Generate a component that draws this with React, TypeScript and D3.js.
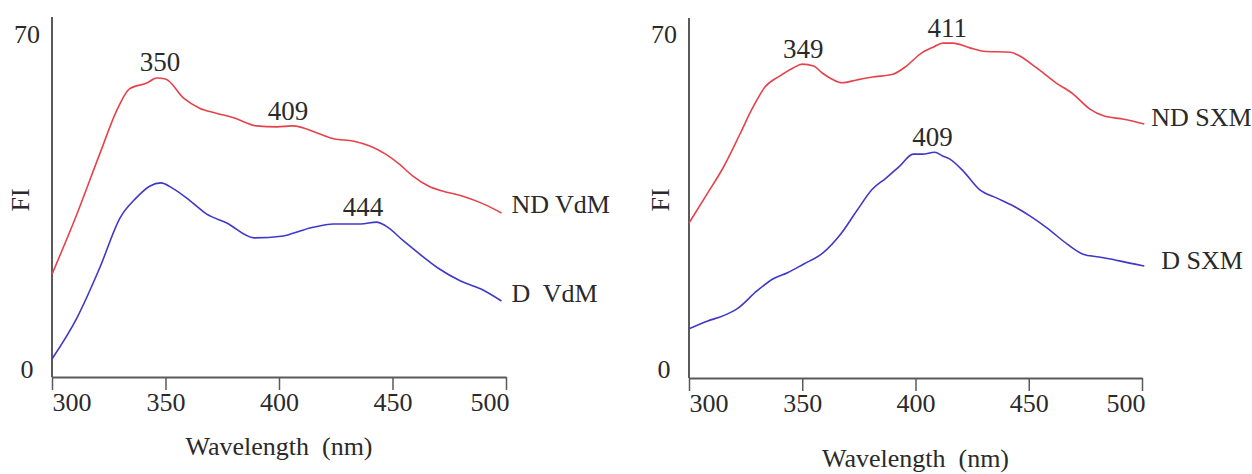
import React, { useEffect, useRef } from 'react';
import * as d3 from 'd3';

// ---- Data ----
const xTicks = [300, 350, 400, 450, 500];
const yTicks = [0, 70];

const ndVdmNm = [300, 311, 321, 329, 334, 342, 346, 350, 358, 365, 372, 380, 390, 399, 406, 418, 424, 433, 440, 447, 453, 459, 466, 472, 481, 490, 498];
const ndVdmFi = [19.8, 32.4, 44.9, 54.5, 58.5, 59.8, 60.8, 60.6, 56.6, 54.5, 53.5, 52.5, 50.8, 50.6, 50.8, 49.1, 48.1, 47.6, 46.6, 44.9, 42.8, 40.3, 38.2, 37.2, 36.1, 34.5, 32.6];

const dVdmNm = [300, 311, 321, 330, 337, 343, 348, 353, 361, 368, 377, 389, 402, 409, 415, 424, 436, 443, 447, 455, 462, 470, 480, 489, 498];
const dVdmFi = [2.1, 10.7, 21.1, 31.6, 35.7, 38.2, 38.9, 37.8, 35.1, 32.4, 30.5, 27.4, 27.8, 28.8, 29.6, 30.3, 30.3, 30.7, 29.9, 26.7, 24.0, 21.1, 18.4, 16.7, 14.2];

const ndSxmNm = [300, 308, 315, 322.5, 328, 333.5, 340, 346, 350, 355, 359, 363, 367.5, 374, 381, 390, 396, 402, 408, 412, 416.5, 424, 430, 442, 446, 453.5, 462, 469.5, 477, 483, 492, 501];
const ndSxmFi = [30.5, 36.6, 42.0, 49.1, 54.5, 58.9, 61.2, 62.9, 63.7, 63.3, 61.8, 60.6, 59.8, 60.4, 61.0, 61.6, 63.3, 65.8, 67.3, 68.1, 68.1, 67.1, 66.4, 66.2, 65.4, 62.9, 59.8, 57.5, 54.3, 52.9, 52.2, 51.2];

const dSxmNm = [300, 308, 315, 321, 330, 337, 343.5, 350.5, 359, 367, 374, 381, 387, 393, 399, 403, 408.5, 412, 415, 421, 428, 436, 443, 450.5, 458, 467, 474, 481, 490, 501];
const dSxmFi = [8.4, 10.0, 11.1, 12.5, 16.3, 18.8, 20.1, 21.9, 24.2, 28.2, 33.0, 37.6, 39.9, 42.4, 44.9, 44.9, 45.3, 44.5, 43.9, 41.4, 37.6, 35.7, 34.1, 32.0, 29.5, 26.1, 24.0, 23.4, 22.6, 21.5];

// peak annotations: text, wavelength, FI
const leftPeakText = ['350', '409', '444'];
const leftPeakNm = [347.6, 404, 437];
const leftPeakFi = [60.8, 50.7, 30.5];
const rightPeakText = ['349', '411', '409'];
const rightPeakNm = [350.4, 414, 407.5];
const rightPeakFi = [63.7, 68.1, 45.3];

const RED = '#e5434b';
const BLUE = '#4038c8';
const AXIS = '#5a5a5a';
const TEXT = '#2a2a2a';
const FONT = "'Liberation Serif', 'Times New Roman', Times, serif";

type Series = { name: string; nm: number[]; fi: number[]; color: string; dx: number; dy: number };

const panels = [
  {
    xRange: [52, 506], y0: 369, y70: 34, axisY: 377, axisTop: 17, fiX: 20, titleY: 446,
    series: [
      { name: 'ND VdM', nm: ndVdmNm, fi: ndVdmFi, color: RED, dx: 10, dy: -9 },
      { name: 'D  VdM', nm: dVdmNm, fi: dVdmFi, color: BLUE, dx: 10, dy: -8 },
    ] as Series[],
    peakText: leftPeakText, peakNm: leftPeakNm, peakFi: leftPeakFi,
  },
  {
    xRange: [689, 1142], y0: 369, y70: 34, axisY: 378, axisTop: 18, fiX: 660, titleY: 458,
    series: [
      { name: 'ND SXM', nm: ndSxmNm, fi: ndSxmFi, color: RED, dx: 7, dy: -7 },
      { name: 'D SXM', nm: dSxmNm, fi: dSxmFi, color: BLUE, dx: 17, dy: -6 },
    ] as Series[],
    peakText: rightPeakText, peakNm: rightPeakNm, peakFi: rightPeakFi,
  },
];

export default function App() {
  const ref = useRef<SVGSVGElement | null>(null);

  useEffect(() => {
    const svg = d3.select(ref.current);
    svg.selectAll('*').remove();

    panels.forEach((p) => {
      const x = d3.scaleLinear().domain([300, 500]).range(p.xRange);
      const y = d3.scaleLinear().domain([0, 70]).range([p.y0, p.y70]);
      const g = svg.append('g');

      // y axis line
      g.append('line')
        .attr('x1', p.xRange[0]).attr('x2', p.xRange[0])
        .attr('y1', p.axisTop).attr('y2', p.axisY)
        .attr('stroke', AXIS).attr('stroke-width', 2);

      // y tick labels (no tick marks)
      g.selectAll('text.ytick').data(yTicks).enter().append('text')
        .attr('class', 'ytick')
        .attr('x', p.xRange[0] - 25)
        .attr('y', (d) => y(d))
        .attr('dy', '0.35em')
        .attr('text-anchor', 'middle')
        .style('font-family', FONT).style('font-size', '26px').attr('fill', TEXT)
        .text((d) => String(d));

      // x axis
      const xAxis = d3.axisBottom(x).tickValues(xTicks).tickSize(13).tickSizeOuter(0).tickPadding(3)
        .tickFormat((d) => String(d));
      const ax = g.append('g').attr('transform', `translate(0,${p.axisY})`).call(xAxis);
      ax.attr('font-family', null).attr('font-size', null);
      ax.select('.domain').attr('stroke', AXIS).attr('stroke-width', 2);
      ax.selectAll('.tick line').attr('stroke', AXIS).attr('stroke-width', 1.5);
      ax.selectAll('.tick text')
        .style('font-family', FONT).style('font-size', '26px').attr('fill', TEXT)
        .attr('text-anchor', (d: any) => (d === 300 ? 'start' : d === 500 ? 'end' : 'middle'))
        .attr('dx', (d: any) => (d === 500 ? 3 : 0));

      // x title
      g.append('text')
        .attr('x', (p.xRange[0] + p.xRange[1]) / 2)
        .attr('y', p.titleY).attr('dy', '0.35em')
        .attr('text-anchor', 'middle')
        .style('font-family', FONT).style('font-size', '26px').attr('fill', TEXT)
        .style('white-space', 'pre')
        .text('Wavelength  (nm)');

      // y title
      g.append('text')
        .attr('transform', `translate(${p.fiX},200) rotate(-90)`)
        .attr('dy', '0.35em')
        .attr('text-anchor', 'middle')
        .style('font-family', FONT).style('font-size', '26px').attr('fill', TEXT)
        .text('FI');

      // curves
      p.series.forEach((s) => {
        const pts = s.nm.map((n, i) => [n, s.fi[i]] as [number, number]);
        const line = d3.line<[number, number]>()
          .x((d) => x(d[0])).y((d) => y(d[1]))
          .curve(d3.curveMonotoneX);
        g.append('path').attr('d', line(pts) || '')
          .attr('fill', 'none').attr('stroke', s.color).attr('stroke-width', 1.6);
        const last = pts[pts.length - 1];
        g.append('text')
          .attr('x', x(last[0]) + s.dx).attr('y', y(last[1]) + s.dy).attr('dy', '0.35em')
          .style('font-family', FONT).style('font-size', '26px').attr('fill', TEXT)
          .style('white-space', 'pre')
          .text(s.name);
      });

      // peak labels
      p.peakText.forEach((t, i) => {
        g.append('text')
          .attr('x', x(p.peakNm[i])).attr('y', y(p.peakFi[i]) - 16).attr('dy', '0.35em')
          .attr('text-anchor', 'middle')
          .style('font-family', FONT).style('font-size', '27px').attr('fill', TEXT)
          .text(t);
      });
    });
  }, []);

  return (
    <svg
      ref={ref}
      width={1252}
      height={474}
      style={{ position: 'absolute', left: 0, top: 0, background: '#fff', display: 'block' }}
    />
  );
}
